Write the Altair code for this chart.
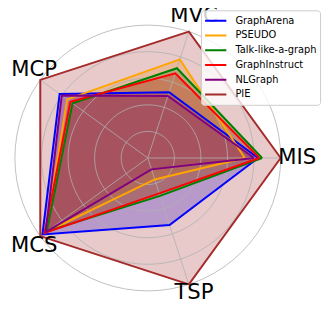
import altair as alt
import pandas as pd
import numpy as np

# ---- data ----
axis_names = ["MIS", "MVC", "MCP", "MCS", "TSP"]
series_names = ["GraphArena", "PSEUDO", "Talk-like-a-graph", "GraphInstruct", "NLGraph", "PIE"]
series_colors = ["#0000ff", "#ffa500", "#008000", "#ff0000", "#800080", "#a52a2a"]

graph_arena = [0.83, 0.52, 0.82, 0.98, 0.53]
pseudo = [0.73, 0.78, 0.75, 0.95, 0.17]
talk_like_a_graph = [0.86, 0.71, 0.70, 0.94, 0.30]
graph_instruct = [0.84, 0.67, 0.72, 0.96, 0.28]
nlgraph = [0.80, 0.49, 0.80, 0.95, 0.09]
pie = [1.00, 1.00, 1.00, 1.00, 1.00]

grid_levels = [0.2, 0.4, 0.6, 0.8, 1.0]
label_radius = 1.125

# ---- tables ----
all_values = [graph_arena, pseudo, talk_like_a_graph, graph_instruct, nlgraph, pie]
n_axes = len(axis_names)
rows = []
for name, vals in zip(series_names, all_values):
    for i in range(n_axes + 1):  # close the polygon
        rows.append({"series": name, "idx": i, "value": vals[i % n_axes]})
series_df = pd.DataFrame(rows)

grid_rows = []
for lv in grid_levels:
    for step in range(73):
        grid_rows.append({"level": lv, "step": step})
grid_df = pd.DataFrame(grid_rows)

axes_df = pd.DataFrame({"axis": axis_names, "k": list(range(n_axes))})

xs = alt.Scale(domain=[-1.05185, 1.32593], nice=False, zero=False)
ys = alt.Scale(domain=[-1.10370, 1.11111], nice=False, zero=False)
color_scale = alt.Scale(domain=series_names, range=series_colors)


def series_base(name):
    return alt.Chart(series_df).transform_filter(
        alt.datum.series == name
    ).transform_calculate(
        ang=f"datum.idx * 2 * PI / {n_axes}"
    ).transform_calculate(
        x="datum.value * cos(datum.ang)",
        y="datum.value * sin(datum.ang)",
    )


fills = []
lines = []
for i, name in enumerate(series_names):
    b = series_base(name)
    fills.append(
        b.mark_line(filled=True, fillOpacity=0.25, strokeWidth=0).encode(
            x=alt.X("x:Q", scale=xs, axis=None),
            y=alt.Y("y:Q", scale=ys, axis=None),
            fill=alt.Fill("series:N", scale=color_scale, legend=None),
            order=alt.Order("idx:Q"),
        )
    )
    lines.append(
        b.mark_line(strokeWidth=2, strokeJoin="miter").encode(
            x=alt.X("x:Q", scale=xs, axis=None),
            y=alt.Y("y:Q", scale=ys, axis=None),
            color=alt.Color(
                "series:N",
                scale=color_scale,
                legend=alt.Legend(
                    orient="none", legendX=196, legendY=0, title=None,
                    symbolType="stroke", symbolSize=466, symbolStrokeWidth=2,
                    labelFont="DejaVu Sans", labelFontSize=10, labelOffset=8,
                    labelColor="black", padding=3, rowPadding=0, clipHeight=15,
                    fillColor="rgba(255,255,255,0.8)", strokeColor="#cccccc",
                    cornerRadius=3,
                ) if i == 0 else None,
            ),
            order=alt.Order("idx:Q"),
        )
    )

grid = alt.Chart(grid_df).transform_calculate(
    x="datum.level * cos(datum.step * PI / 36)",
    y="datum.level * sin(datum.step * PI / 36)",
).mark_line(color="#b0b0b0", strokeWidth=0.8).encode(
    x=alt.X("x:Q", scale=xs, axis=None),
    y=alt.Y("y:Q", scale=ys, axis=None),
    detail="level:N",
    order=alt.Order("step:Q"),
)

spokes = alt.Chart(axes_df).transform_calculate(
    x0="0", y0="0",
    x1=f"cos(datum.k * 2 * PI / {n_axes})",
    y1=f"sin(datum.k * 2 * PI / {n_axes})",
).mark_rule(color="#b0b0b0", strokeWidth=0.8).encode(
    x=alt.X("x0:Q", scale=xs, axis=None),
    y=alt.Y("y0:Q", scale=ys, axis=None),
    x2="x1:Q",
    y2="y1:Q",
)

labels = alt.Chart(axes_df).transform_calculate(
    x=f"max(-0.855, {label_radius} * cos(datum.k * 2 * PI / {n_axes}))",
    y=f"max(-1.02, {label_radius} * sin(datum.k * 2 * PI / {n_axes}))",
).mark_text(font="DejaVu Sans", fontSize=21.5, align="center", baseline="middle", color="black").encode(
    x=alt.X("x:Q", scale=xs, axis=None),
    y=alt.Y("y:Q", scale=ys, axis=None),
    text="axis:N",
)

chart = alt.layer(*fills, grid, spokes, *lines, labels).resolve_scale(
    fill="independent", color="independent"
).properties(
    width=321, height=299, padding=0, autosize=alt.AutoSizeParams(type="none"),
).configure_view(stroke=None)

chart.save("out.html", embed_options={"renderer": "svg", "actions": False})
